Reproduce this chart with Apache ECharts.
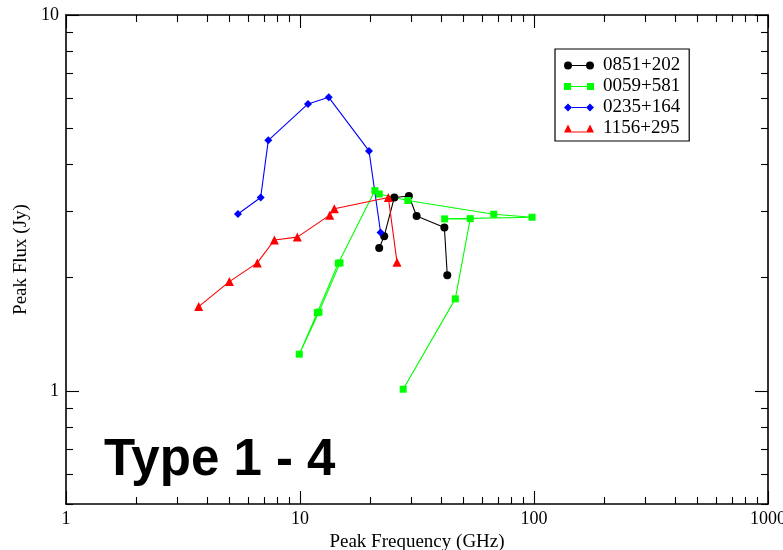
<!DOCTYPE html>
<html>
<head>
<meta charset="utf-8">
<script src="https://cdn.jsdelivr.net/npm/echarts@6/dist/echarts.min.js"></script>
<style>html,body{margin:0;padding:0;background:#fff;overflow:hidden;}#c{width:783px;height:550px;}</style>
</head>
<body>
<div id="c"></div>
<script>
// ---- data (GHz, Jy) ----
var names = ['0851+202', '0059+581', '0235+164', '1156+295'];
var s0851 = [[21.8,2.40],[22.9,2.58],[25.3,3.27],[29.2,3.30],[31.5,2.92],[41.4,2.72],[42.6,2.03]];
var s0059 = [[27.6,1.01],[46.1,1.757],[53.4,2.872],[41.5,2.868],[98.1,2.897],[67.3,2.951],[28.9,3.21],
             [21.8,3.34],[20.9,3.41],[14.58,2.186],[11.86,1.615],[9.93,1.252],[12.05,1.62],[14.83,2.19]];
var s0235 = [[5.43,2.956],[6.79,3.27],[7.32,4.64],[10.82,5.80],[13.27,6.04],[19.72,4.35],[22.1,2.64]];
var s1156 = [[3.69,1.676],[4.99,1.953],[6.57,2.19],[7.77,2.52],[9.74,2.565],[13.39,2.934],[14.02,3.05],[23.85,3.27],[25.97,2.20]];
var xMajor = [1, 10, 100, 1000];
var xMinor = [2,3,4,5,6,7,8,9,20,30,40,50,60,70,80,90,200,300,400,500,600,700,800,900];
var yMajor = [1, 10];
var yMinor = [0.5,0.6,0.7,0.8,0.9,2,3,4,5,6,7,8,9];
var xLabels = ['1', '10', '100', '1000'];
var yLabels = ['1', '10'];
var colors = ['#000000', '#00ff00', '#0000ff', '#ff0000'];
var symbols = ['circle', 'rect', 'diamond', 'triangle'];
var symbolSizes = [8, 7, 8, 9];
var icons = [
  'path://M0,4A4,4,0,1,1,8,4A4,4,0,1,1,0,4ZM22,4A4,4,0,1,1,30,4A4,4,0,1,1,22,4ZM4,3.5L26,3.5L26,4.5L4,4.5Z',
  'path://M0,0.5L7,0.5L7,7.5L0,7.5ZM23,0.5L30,0.5L30,7.5L23,7.5ZM7,3.5L23,3.5L23,4.5L7,4.5Z',
  'path://M0,4L4,0L8,4L4,8ZM22,4L26,0L30,4L26,8ZM8,3.5L22,3.5L22,4.5L8,4.5Z',
  'path://M0,8L4,0L8,8ZM22,8L26,0L30,8ZM8,7L22,7L22,8L8,8Z'
];

var serif = 'Liberation Serif';
var chart = echarts.init(document.getElementById('c'));

function fmt(list, labels) {
  return function (v) {
    for (var i = 0; i < list.length; i++) {
      if (Math.abs(v - list[i]) < 1e-6 * list[i]) return labels[i];
    }
    return '';
  };
}

function axis(kind, pos, ticks, len, showLine, showLabel, extra) {
  var a = {
    type: 'log', logBase: 10, position: pos,
    min: kind === 'x' ? 1 : 0.5, max: kind === 'x' ? 1000 : 10,
    axisLine: { show: showLine, onZero: false, lineStyle: { color: '#000', width: 1.6 } },
    axisTick: { show: true, inside: true, length: len, customValues: ticks, lineStyle: { color: '#000', width: 1.1 } },
    splitLine: { show: false },
    minorTick: { show: false },
    axisLabel: { show: false }
  };
  if (showLabel) {
    a.axisLabel = {
      show: true,
      customValues: kind === 'x' ? xMajor : yMajor,
      formatter: kind === 'x' ? fmt(xMajor, xLabels) : fmt(yMajor, yLabels),
      fontFamily: serif, fontSize: 18, color: '#000',
      margin: kind === 'x' ? 6 : 7
    };
  }
  if (extra) for (var k in extra) a[k] = extra[k];
  return a;
}

var seriesData = [s0851, s0059, s0235, s1156];
var series = seriesData.map(function (d, i) {
  return {
    name: names[i], type: 'line', data: d,
    xAxisIndex: 0, yAxisIndex: 0,
    symbol: symbols[i], symbolSize: symbolSizes[i], showAllSymbol: true,
    lineStyle: { color: colors[i], width: 1.1 },
    itemStyle: { color: colors[i], borderWidth: 0 },
    emphasis: { disabled: true },
    animation: false
  };
});

chart.setOption({
  animation: false,
  grid: { left: 66, right: 15, top: 15, bottom: 46, containLabel: false, outerBoundsMode: 'none' },
  xAxis: [
    axis('x', 'bottom', xMajor, 13, true, true, {
      name: 'Peak Frequency (GHz)', nameLocation: 'middle', nameGap: 27,
      nameTextStyle: { fontFamily: serif, fontSize: 19, color: '#000' }
    }),
    axis('x', 'bottom', xMinor, 7, false, false),
    axis('x', 'top', xMajor, 13, true, false),
    axis('x', 'top', xMinor, 7, false, false)
  ],
  yAxis: [
    axis('y', 'left', yMajor, 13, true, true, {
      name: 'Peak Flux (Jy)', nameLocation: 'middle', nameGap: 35,
      nameTextStyle: { fontFamily: serif, fontSize: 19, color: '#000' }
    }),
    axis('y', 'left', yMinor, 7, false, false),
    axis('y', 'right', yMajor, 13, true, false),
    axis('y', 'right', yMinor, 7, false, false)
  ],
  legend: {
    orient: 'vertical', left: 555, top: 49,
    padding: [7, 9, 3, 9], itemGap: 2,
    itemWidth: 30, itemHeight: 8,
    borderColor: '#000', borderWidth: 1.2, backgroundColor: '#fff',
    selectedMode: false,
    itemStyle: { borderWidth: 0 },
    textStyle: { fontFamily: serif, fontSize: 19, color: '#000', padding: [0, 0, 0, 4] },
    data: names.map(function (n, i) { return { name: n, icon: icons[i], itemStyle: { color: colors[i], borderWidth: 0 } }; })
  },
  graphic: [{
    type: 'text', x: 104, y: 461,
    style: { text: 'Type 1 - 4', font: 'bold 51px "Liberation Sans"', fill: '#000', verticalAlign: 'middle', align: 'left' }
  }],
  series: series
});
</script>
</body>
</html>
